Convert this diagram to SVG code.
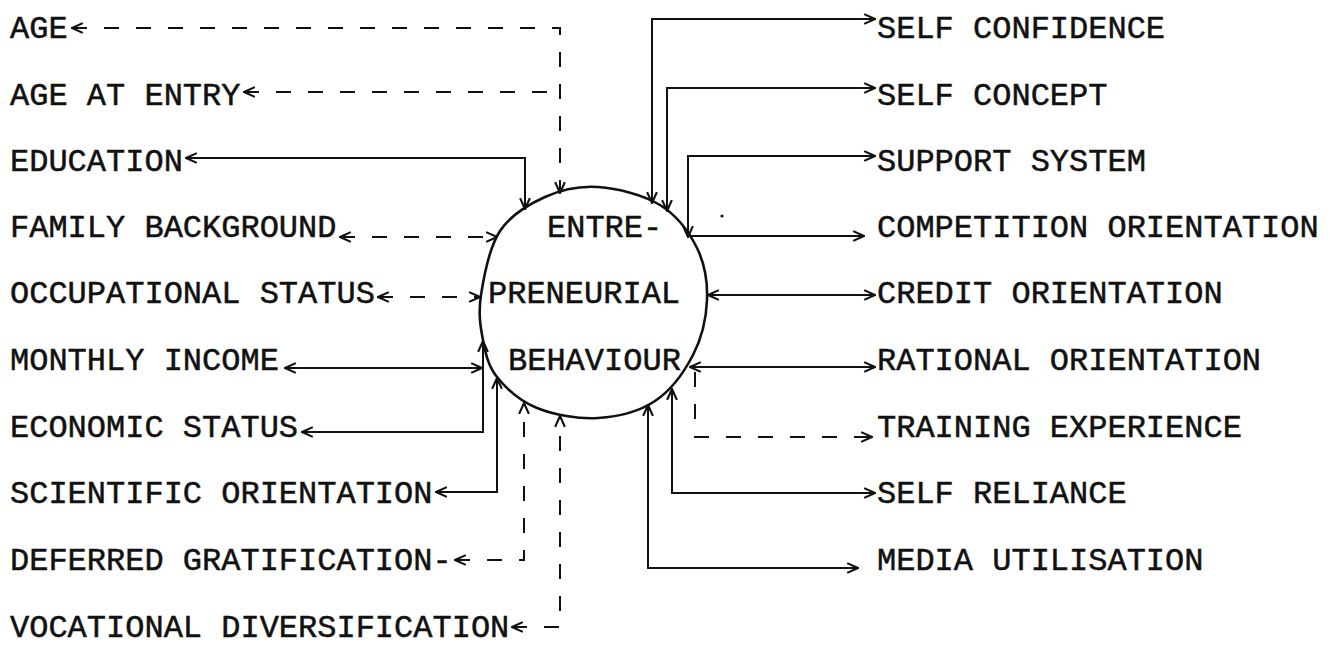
<svg xmlns="http://www.w3.org/2000/svg" width="1331" height="646" viewBox="0 0 1331 646">
<style>
text{font-family:"Liberation Mono","DejaVu Sans Mono",monospace;font-size:32px;fill:#111;stroke:#111;stroke-width:0.5}
.c{fill:none;stroke:#111;stroke-width:2;stroke-linejoin:miter}
.d{stroke-dasharray:15 17}
.b{fill:none;stroke:#111;stroke-width:2.6}
</style>
<defs>
<marker id="a" viewBox="0 0 12 12" refX="11" refY="6" markerWidth="13" markerHeight="13" markerUnits="userSpaceOnUse" orient="auto-start-reverse">
<path d="M1,1.5 L11,6 L1,10.5" fill="none" stroke="#111" stroke-width="2"/>
</marker>
</defs>
<rect width="1331" height="646" fill="#fff"/>

<g id="center">
<path class="b" d="M598,187 C617.2,188.3 643.5,194.8 660,205 C676.5,215.2 689.2,232.2 697,248 C704.8,263.8 707.7,282.2 707,300 C706.3,317.8 701.7,338.2 693,355 C684.3,371.8 670.8,390.5 655,401 C639.2,411.5 617.7,416.8 598,418 C578.3,419.2 553.8,414.8 537,408 C520.2,401.2 506,388.3 497,377 C488,365.7 485.7,353.7 483,340 C480.3,326.3 478.2,313.2 481,295 C483.8,276.8 489.3,247.3 500,231 C510.7,214.7 528.7,204.3 545,197 C561.3,189.7 578.8,185.7 598,187 Z"/>
<text x="547" y="237">ENTRE-</text>
<text x="488" y="303">PRENEURIAL</text>
<text x="508" y="370">BEHAVIOUR</text>
</g>

<g id="age"><text x="10" y="38">AGE</text></g>
<g id="age-at-entry"><text x="10" y="105">AGE AT ENTRY</text></g>
<g id="education"><text x="10" y="171">EDUCATION</text></g>
<g id="family-background"><text x="10" y="237">FAMILY BACKGROUND</text></g>
<g id="occupational-status"><text x="10" y="303">OCCUPATIONAL STATUS</text></g>
<g id="monthly-income"><text x="10" y="370">MONTHLY INCOME</text></g>
<g id="economic-status"><text x="10" y="437">ECONOMIC STATUS</text></g>
<g id="scientific-orientation"><text x="10" y="503">SCIENTIFIC ORIENTATION</text></g>
<g id="deferred-gratification"><text x="10" y="570">DEFERRED GRATIFICATION-</text></g>
<g id="vocational-diversification"><text x="10" y="637">VOCATIONAL DIVERSIFICATION</text></g>

<g id="self-confidence"><text x="877" y="38">SELF CONFIDENCE</text></g>
<g id="self-concept"><text x="877" y="105">SELF CONCEPT</text></g>
<g id="support-system"><text x="877" y="171">SUPPORT SYSTEM</text></g>
<g id="competition-orientation"><text x="877" y="237">COMPETITION ORIENTATION</text></g>
<g id="credit-orientation"><text x="877" y="303">CREDIT ORIENTATION</text></g>
<g id="rational-orientation"><text x="877" y="370">RATIONAL  ORIENTATION</text></g>
<g id="training-experience"><text x="877" y="437">TRAINING EXPERIENCE</text></g>
<g id="self-reliance"><text x="877" y="503">SELF RELIANCE</text></g>
<g id="media-utilisation"><text x="877" y="570">MEDIA UTILISATION</text></g>

<g id="connectors">
<path class="c d" d="M72,28 H560 V193" marker-start="url(#a)" marker-end="url(#a)"/>
<path class="c d" d="M244,92 H560" marker-start="url(#a)"/>
<path class="c" d="M186,158 H525 V209" marker-start="url(#a)" marker-end="url(#a)"/>
<path class="c d" d="M340,237 H497" marker-start="url(#a)" marker-end="url(#a)"/>
<path class="c d" d="M378,297 H480" marker-start="url(#a)" marker-end="url(#a)"/>
<path class="c" d="M285,368 H482" marker-start="url(#a)" marker-end="url(#a)"/>
<path class="c" d="M302,432 H483 V341" marker-start="url(#a)" marker-end="url(#a)"/>
<path class="c" d="M436,492 H497 V378" marker-start="url(#a)" marker-end="url(#a)"/>
<path class="c d" d="M455,560 H524 V403" marker-start="url(#a)" marker-end="url(#a)"/>
<path class="c d" d="M512,627 H560 V416" marker-start="url(#a)" marker-end="url(#a)"/>

<path class="c" d="M652,203 V19 H875" marker-start="url(#a)" marker-end="url(#a)"/>
<path class="c" d="M667,211 V88 H875" marker-start="url(#a)" marker-end="url(#a)"/>
<path class="c" d="M688,237 V156 H875" marker-start="url(#a)" marker-end="url(#a)"/>
<path class="c" d="M690,236 H864" marker-end="url(#a)"/>
<path class="c" d="M708,295 H875" marker-start="url(#a)" marker-end="url(#a)"/>
<path class="c" d="M690,367 H875" marker-start="url(#a)" marker-end="url(#a)"/>
<path class="c d" d="M695,372 V437 H872" marker-end="url(#a)"/>
<path class="c" d="M672,389 V493 H875" marker-start="url(#a)" marker-end="url(#a)"/>
<path class="c" d="M648,405 V568 H858" marker-start="url(#a)" marker-end="url(#a)"/>
</g>
<circle cx="722" cy="216" r="1.6" fill="#111"/>
</svg>
